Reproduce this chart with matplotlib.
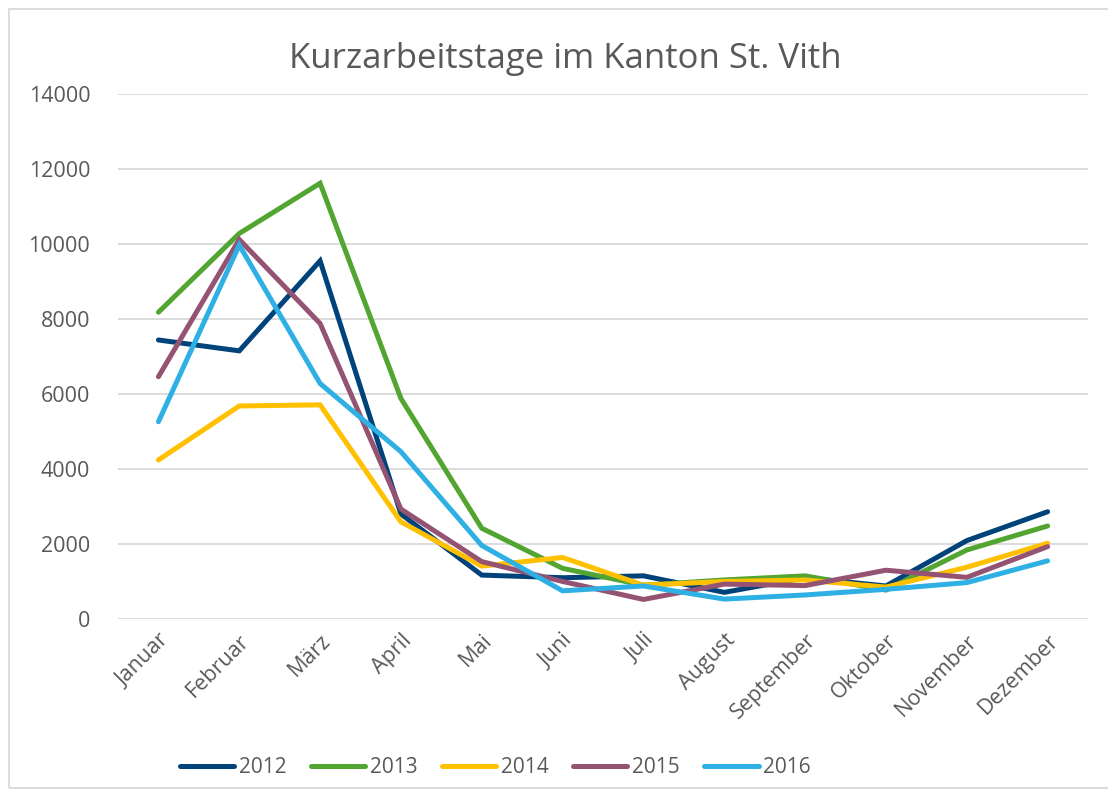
import numpy as np
import matplotlib.pyplot as plt
from matplotlib.patches import Rectangle

# Monate / Kurzarbeitstage pro Jahr
monate = ["Januar", "Februar", "März", "April", "Mai", "Juni", "Juli",
          "August", "September", "Oktober", "November", "Dezember"]
jahre = ["2012", "2013", "2014", "2015", "2016"]

tage_2012 = [7440, 7150, 9550, 2800, 1170, 1100, 1150, 710, 1100, 880, 2090, 2860]
tage_2013 = [8180, 10280, 11620, 5880, 2420, 1350, 900, 1040, 1150, 770, 1840, 2480]
tage_2014 = [4240, 5680, 5710, 2590, 1410, 1640, 900, 1000, 1040, 850, 1380, 2020]
tage_2015 = [6460, 10120, 7880, 2930, 1530, 1000, 520, 930, 890, 1300, 1110, 1930]
tage_2016 = [5260, 9970, 6280, 4460, 1960, 750, 880, 530, 640, 790, 970, 1550]

farben = ["#00427A", "#52A530", "#FFC000", "#955374", "#2EB0E4"]
serien = [tage_2012, tage_2013, tage_2014, tage_2015, tage_2016]

plt.rcParams["font.family"] = ["Open Sans", "DejaVu Sans"]
grau = "#595959"

fig = plt.figure(figsize=(11.08, 7.9), dpi=100)
ax = fig.add_axes([0.1065, 0.2165, 0.8755, 0.6645])

x = np.arange(len(monate))
for jahr, werte, farbe in zip(jahre, serien, farben):
    ax.plot(x, werte, color=farbe, lw=3.6, label=jahr,
            solid_capstyle="round", solid_joinstyle="miter")

ax.set_xlim(-0.5, len(monate) - 0.5)
ax.set_ylim(0, 14000)
ax.set_yticks(np.arange(0, 14001, 2000))
ax.set_xticks(x)
ax.set_xticklabels(monate, rotation=45, ha="right", rotation_mode="anchor")
ax.tick_params(axis="both", length=0, labelsize=15.5, colors=grau)
ax.tick_params(axis="y", pad=20)
ax.tick_params(axis="x", pad=8)
ax.grid(axis="y", color="#D9D9D9", lw=1.3)
ax.set_axisbelow(True)
for s in ax.spines.values():
    s.set_visible(False)

fig.text(0.51, 0.925, "Kurzarbeitstage im Kanton St. Vith", ha="center",
         va="center", fontsize=25, color=grau)

fig.legend(loc="center", bbox_to_anchor=(0.447, 0.028), ncol=5,
           frameon=False, fontsize=15, handlelength=2.6, handletextpad=0.2,
           columnspacing=1.2, labelcolor=grau)

fig.patches.append(Rectangle((9 / 1108, 2 / 790), 1.1, 779 / 790,
                             transform=fig.transFigure, fill=False,
                             edgecolor="#D9D9D9", lw=1.3))

fig.savefig("out.png", dpi=100)
